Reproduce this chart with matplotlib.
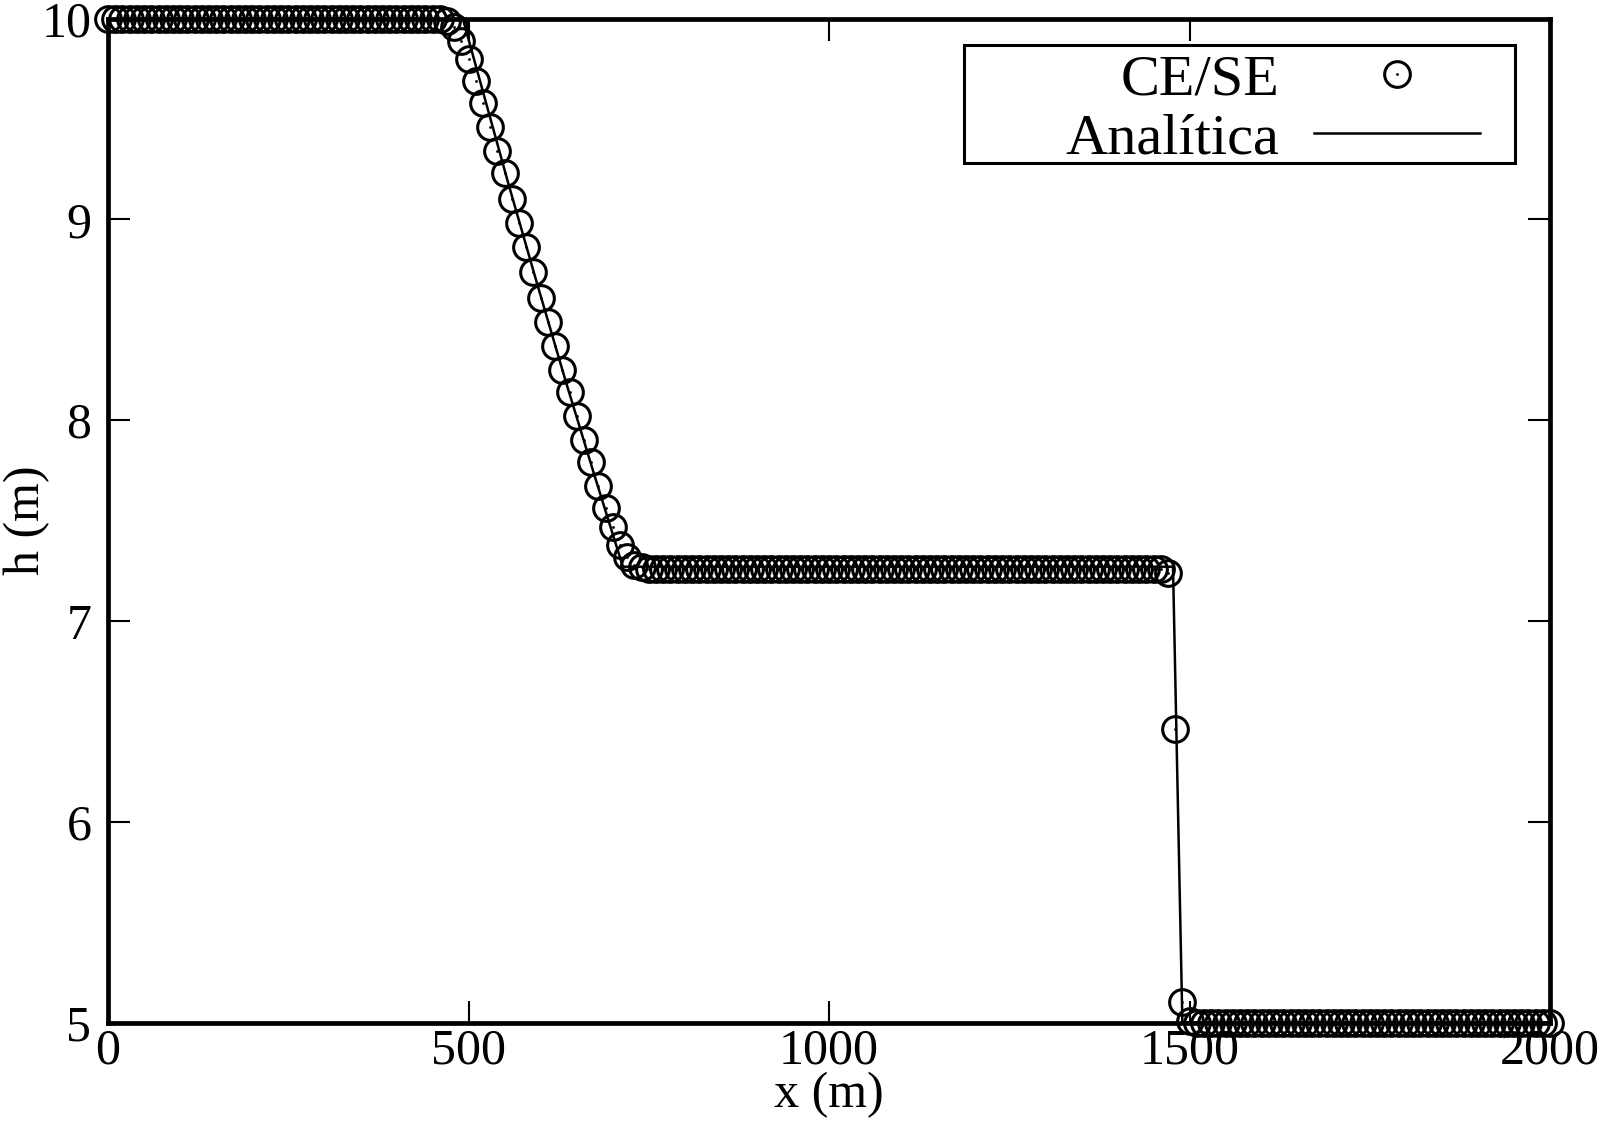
import numpy as np
import matplotlib
matplotlib.use("Agg")
import matplotlib.pyplot as plt
from matplotlib.legend_handler import HandlerTuple
from matplotlib.patches import Rectangle

plt.rcParams['font.family'] = ['Liberation Serif', 'DejaVu Serif']

# CE/SE numerical solution, one value every 10 m from 0 to 2000 m
x_num = np.arange(0, 2001, 10)
h_num = [
    10.0, 10.0, 10.0, 10.0, 10.0, 10.0, 10.0, 10.0, 10.0, 10.0,   # 0-90
    10.0, 10.0, 10.0, 10.0, 10.0, 10.0, 10.0, 10.0, 10.0, 10.0,   # 100-190
    10.0, 10.0, 10.0, 10.0, 10.0, 10.0, 10.0, 10.0, 10.0, 10.0,   # 200-290
    10.0, 10.0, 10.0, 10.0, 10.0, 10.0, 10.0, 10.0, 10.0, 10.0,   # 300-390
    10.0, 10.0, 10.0, 10.0, 10.0, 10.0, 10.0, 9.99, 9.96, 9.89,   # 400-490
    9.80, 9.69, 9.58, 9.46, 9.34, 9.23, 9.10, 8.98, 8.86, 8.74,   # 500-590
    8.61, 8.49, 8.37, 8.25, 8.14, 8.02, 7.90, 7.79, 7.67, 7.56,   # 600-690
    7.47, 7.38, 7.32, 7.28, 7.27, 7.26, 7.26, 7.26, 7.26, 7.26,   # 700-790
    7.26, 7.26, 7.26, 7.26, 7.26, 7.26, 7.26, 7.26, 7.26, 7.26,   # 800-890
    7.26, 7.26, 7.26, 7.26, 7.26, 7.26, 7.26, 7.26, 7.26, 7.26,   # 900-990
    7.26, 7.26, 7.26, 7.26, 7.26, 7.26, 7.26, 7.26, 7.26, 7.26,   # 1000-1090
    7.26, 7.26, 7.26, 7.26, 7.26, 7.26, 7.26, 7.26, 7.26, 7.26,   # 1100-1190
    7.26, 7.26, 7.26, 7.26, 7.26, 7.26, 7.26, 7.26, 7.26, 7.26,   # 1200-1290
    7.26, 7.26, 7.26, 7.26, 7.26, 7.26, 7.26, 7.26, 7.26, 7.26,   # 1300-1390
    7.26, 7.26, 7.26, 7.26, 7.26, 7.26, 7.26, 7.24, 6.46, 5.10,   # 1400-1490
    5.01, 5.0, 5.0, 5.0, 5.0, 5.0, 5.0, 5.0, 5.0, 5.0,            # 1500-1590
    5.0, 5.0, 5.0, 5.0, 5.0, 5.0, 5.0, 5.0, 5.0, 5.0,             # 1600-1690
    5.0, 5.0, 5.0, 5.0, 5.0, 5.0, 5.0, 5.0, 5.0, 5.0,             # 1700-1790
    5.0, 5.0, 5.0, 5.0, 5.0, 5.0, 5.0, 5.0, 5.0, 5.0,             # 1800-1890
    5.0, 5.0, 5.0, 5.0, 5.0, 5.0, 5.0, 5.0, 5.0, 5.0,             # 1900-1990
    5.0,                                                          # 2000
]

# analytic solution (dam break)
x_ana = [0, 492, 515, 555, 595, 635, 675, 714, 1477, 1490, 2000]
h_ana = [10.0, 10.0, 9.70, 9.18, 8.68, 8.19, 7.72, 7.27, 7.27, 5.0, 5.0]

fig = plt.figure(figsize=(16.13, 11.35), dpi=100)
ax = fig.add_axes([0.0670, 0.0991, 0.8940, 0.8846])

circ, = ax.plot(x_num, h_num, linestyle='none', marker='o', markersize=18.5,
                markerfacecolor='none', markeredgecolor='black',
                markeredgewidth=2.2, clip_on=False, zorder=3)
dots, = ax.plot(x_num, h_num, linestyle='none', marker='o', markersize=2.0,
                markerfacecolor='black', markeredgecolor='black',
                markeredgewidth=0, clip_on=False, zorder=3)
ana, = ax.plot(x_ana, h_ana, color='black', linewidth=1.8, zorder=4)

ax.set_xlim(0, 2000)
ax.set_ylim(5, 10)
ax.set_xticks([0, 500, 1000, 1500, 2000])
ax.set_yticks([5, 6, 7, 8, 9, 10])

for s in ax.spines.values():
    s.set_linewidth(3.4)
ax.tick_params(direction='in', length=16, width=1.5, labelsize=36,
               top=True, right=True)
ax.tick_params(axis='x', pad=4)
ax.tick_params(axis='y', pad=12)

ax.set_xlabel('x (m)', fontsize=36, labelpad=-2)
ax.set_ylabel('h (m)', fontsize=36)
ax.yaxis.set_label_coords(-0.040, 0.5)

# legend: text on the left, symbol on the right, wide box like xmgrace
leg = ax.legend([(circ, dots), ana], ['CE/SE', 'Analítica'],
                handler_map={tuple: HandlerTuple(ndivide=1)},
                loc='upper right', bbox_to_anchor=(0.9577, 0.9736),
                borderaxespad=0, markerfirst=False, fontsize=42,
                handlelength=2.85, handletextpad=0.6, labelspacing=0.1,
                borderpad=0.15, frameon=False)
box = Rectangle((0.5936, 0.8561), 0.9757 - 0.5936, 0.9736 - 0.8561,
                transform=ax.transAxes, facecolor='white', edgecolor='black',
                linewidth=2.2, zorder=5)
ax.add_patch(box)
leg.set_zorder(6)

fig.savefig('out.png', dpi=100)
